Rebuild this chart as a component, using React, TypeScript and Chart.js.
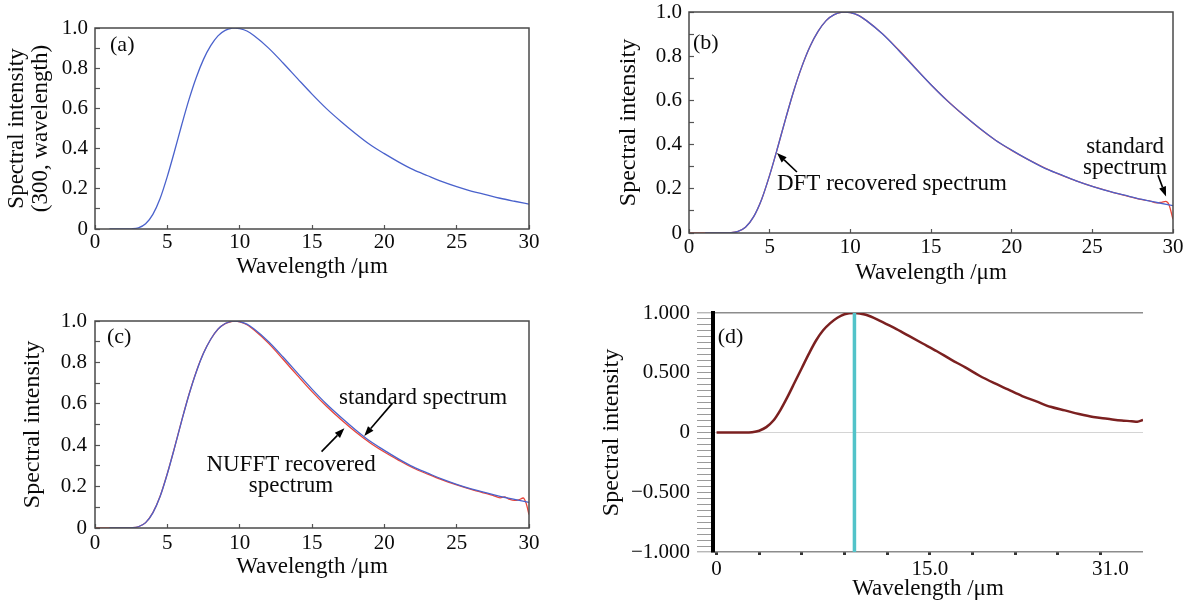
import React, { useEffect, useRef } from 'react';
import { Chart, registerables } from 'chart.js';

Chart.register(...registerables);

const FONT = '"Liberation Serif", "Times New Roman", serif';

// ---------- data ----------
const WAVELENGTH = [1, 1.5, 2, 2.5, 3, 3.5, 4, 4.5, 5, 5.5, 6, 6.5, 7, 7.5, 8, 8.5, 9, 9.5, 9.7, 10, 10.5, 11, 12, 13, 14, 15, 16, 17, 18, 19, 20, 21, 22, 23, 24, 25, 26, 27, 28, 29, 30];
const STANDARD = [0, 0, 0, 0.001, 0.006, 0.026, 0.073, 0.152, 0.262, 0.388, 0.52, 0.645, 0.754, 0.844, 0.912, 0.961, 0.988, 0.999, 1.0, 0.997, 0.985, 0.961, 0.9, 0.826, 0.748, 0.671, 0.599, 0.535, 0.475, 0.42, 0.375, 0.333, 0.295, 0.265, 0.236, 0.211, 0.189, 0.171, 0.153, 0.138, 0.124];

const DFT_WAVELENGTH = [0, 1, 1.5, 2, 2.5, 3, 3.5, 4, 4.5, 5, 5.5, 6, 6.5, 7, 7.5, 8, 8.5, 9, 9.5, 9.7, 10, 10.5, 11, 12, 13, 14, 15, 16, 17, 18, 19, 20, 21, 22, 23, 24, 25, 26, 27, 28, 28.5, 29, 29.3, 29.55, 29.75, 30];
const DFT_VALUES = [0, 0, 0, 0, 0.001, 0.006, 0.026, 0.073, 0.152, 0.262, 0.388, 0.52, 0.645, 0.754, 0.844, 0.912, 0.961, 0.988, 0.999, 1.0, 0.997, 0.985, 0.961, 0.901, 0.828, 0.749, 0.671, 0.6, 0.535, 0.474, 0.42, 0.374, 0.333, 0.296, 0.264, 0.236, 0.211, 0.19, 0.17, 0.152, 0.146, 0.136, 0.139, 0.143, 0.128, 0.062];

const NUFFT_WAVELENGTH = [0, 1, 1.5, 2, 2.5, 3, 3.5, 4, 4.5, 5, 5.5, 6, 6.5, 7, 7.5, 8, 8.5, 9, 9.5, 9.7, 10, 10.5, 11, 12, 13, 14, 15, 16, 17, 18, 19, 20, 21, 22, 23, 24, 25, 26, 27, 27.5, 28, 28.3, 28.6, 29, 29.3, 29.6, 29.8, 30];
const NUFFT_VALUES = [0, 0, 0, 0, 0.001, 0.006, 0.026, 0.074, 0.153, 0.263, 0.389, 0.521, 0.646, 0.755, 0.845, 0.912, 0.96, 0.987, 0.998, 1.0, 0.996, 0.982, 0.956, 0.892, 0.815, 0.736, 0.659, 0.588, 0.524, 0.465, 0.412, 0.367, 0.327, 0.29, 0.26, 0.232, 0.208, 0.186, 0.167, 0.158, 0.146, 0.15, 0.14, 0.133, 0.136, 0.145, 0.12, 0.065];

const D_WAVELENGTH = [0, 1, 2, 2.5, 3, 3.5, 4, 4.5, 5, 5.5, 6, 6.5, 7, 7.5, 8, 8.5, 9, 9.7, 10.5, 11.5, 12.5, 13.5, 14.5, 15.5, 16.5, 17.5, 18.5, 19.5, 20.5, 21.5, 22.5, 23.5, 24.5, 25.5, 26.5, 27.5, 28.5, 29.2, 29.6, 30];
const D_VALUES = [0, 0, 0, 0.003, 0.015, 0.045, 0.1, 0.19, 0.3, 0.42, 0.54, 0.66, 0.77, 0.855, 0.915, 0.96, 0.99, 1.0, 0.985, 0.935, 0.875, 0.81, 0.745, 0.68, 0.61, 0.545, 0.475, 0.415, 0.36, 0.305, 0.26, 0.215, 0.185, 0.155, 0.13, 0.115, 0.1, 0.095, 0.09, 0.105];
const D_PEAK_WAVELENGTH = [9.7];
const D_PEAK_RANGE = [-1, 1];

// ---------- tick labels ----------
const X_TICK_VALUES = [0, 5, 10, 15, 20, 25, 30];
const X_TICK_LABELS = ['0', '5', '10', '15', '20', '25', '30'];
const Y_TICK_VALUES = [0, 0.2, 0.4, 0.6, 0.8, 1.0];
const Y_TICK_LABELS = ['0', '0.2', '0.4', '0.6', '0.8', '1.0'];
const D_Y_TICK_VALUES = [1, 0.5, 0, -0.5, -1];
const D_Y_TICK_LABELS = ['1.000', '0.500', '0', '\u22120.500', '\u22121.000'];
const D_X_TICK_VALUES = [0, 15, 27.7];
const D_X_TICK_LABELS = ['0', '15.0', '31.0'];
const D_X_DOT_VALUES = [0, 3, 6, 9, 12, 15, 18, 21, 24, 27];

const X_TITLE = 'Wavelength /\u03bcm';
const Y_TITLE = 'Spectral intensity';
const Y_TITLE_A = ['Spectral intensity', '(300, wavelength)'];

const BLUE = '#4a62cc';
const RED = '#e8453a';
const INK = '#0a0a0a';

type Note = { text: string; x: number; y: number; align?: CanvasTextAlign; baseline?: CanvasTextBaseline; size?: number };
type Arrow = { from: [number, number]; to: [number, number] };

const labelFor = (v: number, values: number[], labels: string[]) => {
  const i = values.findIndex((t) => Math.abs(t - v) < 1e-6);
  return i >= 0 ? labels[i] : '';
};

const pts = (xs: number[], ys: number[]) => xs.map((x, i) => ({ x, y: ys[i] }));

const noPad = (s: any) => {
  s.paddingTop = 0;
  s.paddingBottom = 0;
  s.paddingLeft = 0;
  s.paddingRight = 0;
};

function drawArrow(ctx: CanvasRenderingContext2D, x1: number, y1: number, x2: number, y2: number) {
  const ang = Math.atan2(y2 - y1, x2 - x1);
  const hl = 10;
  const hw = 3.6;
  const bx = x2 - hl * Math.cos(ang);
  const by = y2 - hl * Math.sin(ang);
  ctx.strokeStyle = '#000';
  ctx.fillStyle = '#000';
  ctx.lineWidth = 1.6;
  ctx.beginPath();
  ctx.moveTo(x1, y1);
  ctx.lineTo(bx, by);
  ctx.stroke();
  ctx.beginPath();
  ctx.moveTo(x2, y2);
  ctx.lineTo(bx + hw * Math.sin(ang), by - hw * Math.cos(ang));
  ctx.lineTo(bx - hw * Math.sin(ang), by + hw * Math.cos(ang));
  ctx.closePath();
  ctx.fill();
}

function overlay(frame: boolean, notes: Note[], arrows: Arrow[]) {
  return {
    id: 'overlay',
    afterDraw(chart: any) {
      const { ctx, chartArea } = chart;
      const xs = chart.scales.x;
      const ys = chart.scales.y;
      ctx.save();
      if (frame) {
        ctx.strokeStyle = '#4a4a4a';
        ctx.lineWidth = 1.5;
        ctx.strokeRect(chartArea.left, chartArea.top, chartArea.right - chartArea.left, chartArea.bottom - chartArea.top);
      }
      for (const n of notes) {
        ctx.font = `${n.size || 23}px ${FONT}`;
        ctx.fillStyle = INK;
        ctx.textAlign = n.align || 'left';
        ctx.textBaseline = n.baseline || 'alphabetic';
        ctx.fillText(n.text, xs.getPixelForValue(n.x), ys.getPixelForValue(n.y));
      }
      for (const a of arrows) {
        drawArrow(ctx, xs.getPixelForValue(a.from[0]), ys.getPixelForValue(a.from[1]), xs.getPixelForValue(a.to[0]), ys.getPixelForValue(a.to[1]));
      }
      ctx.restore();
    },
  };
}

type StdP = {
  yWidth: number; xHeight: number; pad: { top: number; right: number; left: number; bottom: number };
  xTickPad: number; xTitlePad: number; yTitle: string | string[]; yTitleSize: number; yTitlePad: number; yLineHeight: number; yTickPad: number;
};

function stdOptions(p: StdP): any {
  return {
    responsive: false,
    animation: false,
    devicePixelRatio: 1,
    layout: { padding: p.pad },
    plugins: { legend: { display: false }, tooltip: { enabled: false } },
    elements: { point: { radius: 0 } },
    scales: {
      x: {
        type: 'linear', min: 0, max: 30,
        afterFit: (s: any) => { s.height = p.xHeight; noPad(s); },
        ticks: {
          stepSize: 5, autoSkip: false, maxRotation: 0, padding: p.xTickPad, color: INK,
          font: { family: FONT, size: 21 },
          callback: (v: number) => labelFor(v, X_TICK_VALUES, X_TICK_LABELS),
        },
        grid: { display: true, drawOnChartArea: false, drawTicks: true, tickLength: -4, tickColor: '#555', tickWidth: 1.2 },
        border: { display: false },
        title: { display: true, text: X_TITLE, color: INK, font: { family: FONT, size: 23, lineHeight: 1.2 }, padding: { top: 0, bottom: p.xTitlePad } },
      },
      y: {
        type: 'linear', min: 0, max: 1,
        afterFit: (s: any) => { s.width = p.yWidth; noPad(s); },
        ticks: {
          stepSize: 0.1, autoSkip: false, padding: p.yTickPad, color: INK,
          font: { family: FONT, size: 21 },
          callback: (v: number) => labelFor(v, Y_TICK_VALUES, Y_TICK_LABELS),
        },
        grid: { display: true, drawOnChartArea: false, drawTicks: true, tickLength: -5, tickColor: '#555', tickWidth: 1.2 },
        border: { display: false },
        title: { display: true, text: p.yTitle, color: INK, font: { family: FONT, size: p.yTitleSize, lineHeight: p.yLineHeight }, padding: { top: p.yTitlePad, bottom: 0 } },
      },
    },
  };
}

const lineDs = (data: any[], color: string) => ({
  data, borderColor: color, borderWidth: 1.3, pointRadius: 0, fill: false, cubicInterpolationMode: 'monotone',
});

function configA(): any {
  return {
    type: 'line',
    data: { datasets: [lineDs(pts(WAVELENGTH, STANDARD), BLUE)] },
    options: stdOptions({
      yWidth: 95, xHeight: 71, pad: { top: 28, right: 68, left: 0, bottom: 0 },
      xTickPad: 5, xTitlePad: 19, yTitle: Y_TITLE_A, yTitleSize: 23, yTitlePad: 5, yLineHeight: 1.05, yTickPad: 12,
    }),
    plugins: [overlay(true, [{ text: '(a)', x: 1.04, y: 0.915, baseline: 'middle', size: 22 }], [])],
  };
}

function configB(): any {
  return {
    type: 'line',
    data: { datasets: [lineDs(pts(WAVELENGTH, STANDARD), BLUE), lineDs(pts(DFT_WAVELENGTH, DFT_VALUES), RED)] },
    options: stdOptions({
      yWidth: 92, xHeight: 67, pad: { top: 12, right: 22, left: 0, bottom: 0 },
      xTickPad: 6, xTitlePad: 13, yTitle: Y_TITLE, yTitleSize: 24, yTitlePad: 17, yLineHeight: 1.2, yTickPad: 12,
    }),
    plugins: [overlay(true, [
      { text: '(b)', x: 0.25, y: 0.86, baseline: 'middle', size: 22 },
      { text: 'DFT recovered spectrum', x: 5.45, y: 0.195 },
      { text: 'standard', x: 27.03, y: 0.364, align: 'center' },
      { text: 'spectrum', x: 27.03, y: 0.267, align: 'center' },
    ], [
      { from: [6.69, 0.276], to: [5.45, 0.362] },
      { from: [29.07, 0.262], to: [29.57, 0.165] },
    ])],
  };
}

function configC(): any {
  return {
    type: 'line',
    data: { datasets: [lineDs(pts(WAVELENGTH, STANDARD), BLUE), lineDs(pts(NUFFT_WAVELENGTH, NUFFT_VALUES), RED)] },
    options: stdOptions({
      yWidth: 95, xHeight: 75, pad: { top: 21, right: 68, left: 0, bottom: 0 },
      xTickPad: 7, xTitlePad: 22, yTitle: Y_TITLE, yTitleSize: 24, yTitlePad: 18, yLineHeight: 1.2, yTickPad: 13,
    }),
    plugins: [overlay(true, [
      { text: '(c)', x: 0.83, y: 0.92, baseline: 'middle', size: 22 },
      { text: 'standard spectrum', x: 16.87, y: 0.599 },
      { text: 'NUFFT recovered', x: 13.55, y: 0.275, align: 'center' },
      { text: 'spectrum', x: 13.55, y: 0.174, align: 'center' },
    ], [
      { from: [20.55, 0.602], to: [18.61, 0.444] },
      { from: [15.66, 0.369], to: [17.24, 0.482] },
    ])],
  };
}

function configD(): any {
  return {
    type: 'line',
    data: {
      datasets: [
        { data: D_PEAK_RANGE.map((y) => ({ x: D_PEAK_WAVELENGTH[0], y })), borderColor: '#52c3c9', borderWidth: 3.5, pointRadius: 0 },
        { data: pts(D_WAVELENGTH, D_VALUES), borderColor: '#7b2020', borderWidth: 2.5, pointRadius: 0, cubicInterpolationMode: 'monotone' },
      ],
    },
    options: {
      responsive: false,
      animation: false,
      devicePixelRatio: 1,
      layout: { padding: { top: 13, right: 52, left: 0, bottom: 0 } },
      plugins: { legend: { display: false }, tooltip: { enabled: false } },
      scales: {
        x: {
          type: 'linear', min: -0.25, max: 30,
          afterFit: (s: any) => { s.height = 51; noPad(s); },
          afterBuildTicks: (s: any) => {
            s.ticks = [...D_X_DOT_VALUES, D_X_TICK_VALUES[2]].map((v) => ({ value: v }));
          },
          ticks: {
            autoSkip: false, maxRotation: 0, padding: 2, color: INK,
            font: { family: FONT, size: 21 },
            callback: (v: number) => labelFor(v, D_X_TICK_VALUES, D_X_TICK_LABELS),
          },
          grid: {
            display: true, drawOnChartArea: false, drawTicks: true, tickLength: 3, tickWidth: 3,
            tickColor: (ctx: any) => (D_X_DOT_VALUES.some((v) => Math.abs(v - ctx.tick.value) < 1e-6) ? '#333' : 'rgba(0,0,0,0)'),
          },
          border: { display: false },
          title: { display: true, text: X_TITLE, color: INK, font: { family: FONT, size: 23, lineHeight: 1.2 }, padding: { top: 0, bottom: 0 } },
        },
        y: {
          type: 'linear', min: -1, max: 1,
          afterFit: (s: any) => { s.width = 116; noPad(s); },
          ticks: {
            stepSize: 0.05, autoSkip: false, padding: 7, color: INK,
            font: { family: FONT, size: 21 },
            callback: (v: number) => labelFor(v, D_Y_TICK_VALUES, D_Y_TICK_LABELS),
          },
          grid: {
            display: true, drawTicks: true, tickLength: 16, tickColor: '#9a9a9a', tickWidth: 1,
            color: (ctx: any) => {
              const v = ctx.tick ? ctx.tick.value : NaN;
              if (Math.abs(Math.abs(v) - 1) < 1e-6) return '#8c8c8c';
              if (Math.abs(v) < 1e-6) return '#d4d4d4';
              return 'rgba(0,0,0,0)';
            },
            lineWidth: (ctx: any) => (ctx.tick && Math.abs(Math.abs(ctx.tick.value) - 1) < 1e-6 ? 1.6 : 1),
          },
          border: { display: true, color: '#000', width: 4 },
          title: { display: true, text: Y_TITLE, color: INK, font: { family: FONT, size: 24, lineHeight: 1.2 }, padding: { top: 0, bottom: 0 } },
        },
      },
    },
    plugins: [overlay(false, [{ text: '(d)', x: 0.08, y: 0.795, baseline: 'middle', size: 22 }], [])],
  };
}

function Panel({ left, top, width, height, make }: { left: number; top: number; width: number; height: number; make: () => any }) {
  const ref = useRef<HTMLCanvasElement>(null);
  useEffect(() => {
    const chart = new Chart(ref.current as HTMLCanvasElement, make());
    return () => chart.destroy();
  }, []);
  return (
    <canvas ref={ref} width={width} height={height} style={{ position: 'absolute', left, top, width, height }} />
  );
}

export default function App() {
  return (
    <div style={{ position: 'fixed', left: 0, top: 0, width: 1195, height: 603, background: '#ffffff', overflow: 'hidden' }}>
      <Panel left={0} top={0} width={597} height={300} make={configA} />
      <Panel left={597} top={0} width={598} height={300} make={configB} />
      <Panel left={0} top={300} width={597} height={303} make={configC} />
      <Panel left={597} top={300} width={598} height={303} make={configD} />
    </div>
  );
}
